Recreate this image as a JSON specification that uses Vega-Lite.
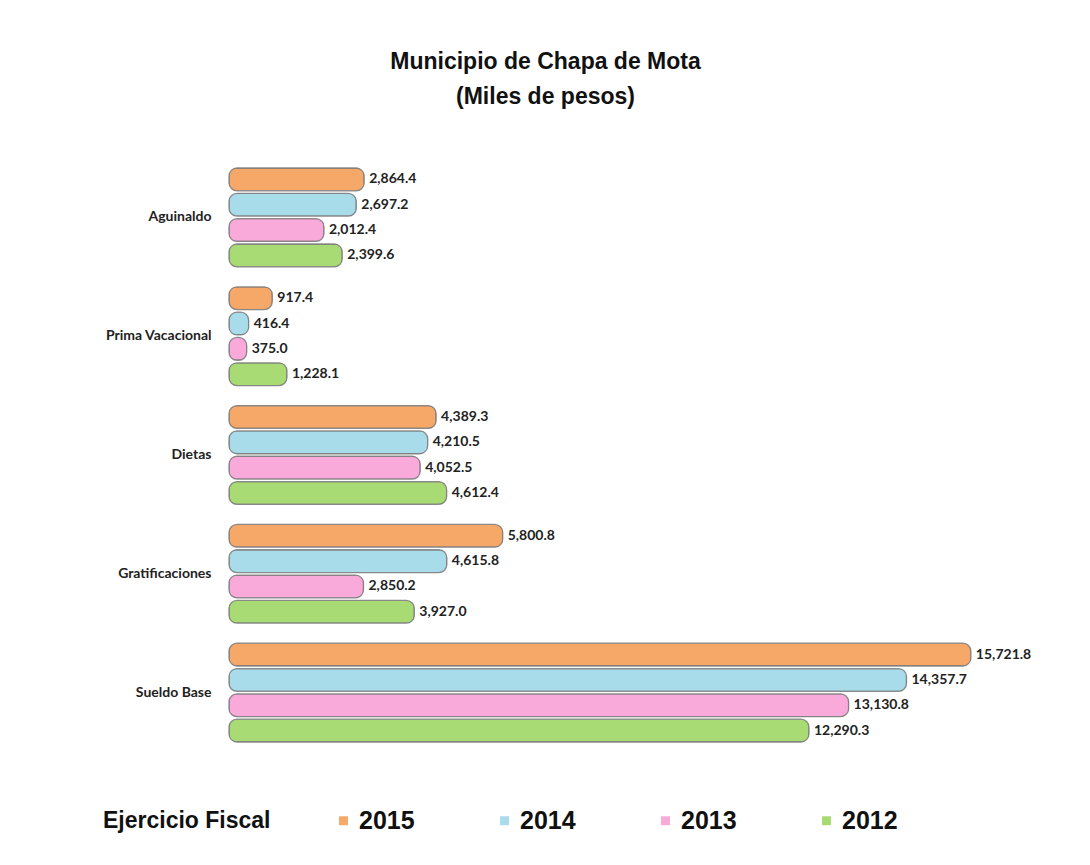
{
  "$schema": "https://vega.github.io/schema/vega-lite/v6.json",
  "autosize": "none",
  "width": 755,
  "height": 594,
  "padding": {"left": 229, "top": 158, "right": 106, "bottom": 113},
  "background": "white",
  "title": {
    "text": ["Municipio de Chapa de Mota", "(Miles de pesos)"],
    "font": "Liberation Sans",
    "fontSize": 23,
    "fontWeight": "bold",
    "color": "#111",
    "anchor": "middle",
    "dx": -61,
    "offset": 49,
    "lineHeight": 35
  },
  "data": {
    "values": [
      {"concepto": "Aguinaldo", "anio": "2015", "valor": 2864.4},
      {"concepto": "Aguinaldo", "anio": "2014", "valor": 2697.2},
      {"concepto": "Aguinaldo", "anio": "2013", "valor": 2012.4},
      {"concepto": "Aguinaldo", "anio": "2012", "valor": 2399.6},
      {"concepto": "Prima  Vacacional", "anio": "2015", "valor": 917.4},
      {"concepto": "Prima  Vacacional", "anio": "2014", "valor": 416.4},
      {"concepto": "Prima  Vacacional", "anio": "2013", "valor": 375.0},
      {"concepto": "Prima  Vacacional", "anio": "2012", "valor": 1228.1},
      {"concepto": "Dietas", "anio": "2015", "valor": 4389.3},
      {"concepto": "Dietas", "anio": "2014", "valor": 4210.5},
      {"concepto": "Dietas", "anio": "2013", "valor": 4052.5},
      {"concepto": "Dietas", "anio": "2012", "valor": 4612.4},
      {"concepto": "Gratificaciones", "anio": "2015", "valor": 5800.8},
      {"concepto": "Gratificaciones", "anio": "2014", "valor": 4615.8},
      {"concepto": "Gratificaciones", "anio": "2013", "valor": 2850.2},
      {"concepto": "Gratificaciones", "anio": "2012", "valor": 3927.0},
      {"concepto": "Sueldo Base", "anio": "2015", "valor": 15721.8},
      {"concepto": "Sueldo Base", "anio": "2014", "valor": 14357.7},
      {"concepto": "Sueldo Base", "anio": "2013", "valor": 13130.8},
      {"concepto": "Sueldo Base", "anio": "2012", "valor": 12290.3}
    ]
  },
  "encoding": {
    "y": {
      "field": "concepto",
      "type": "nominal",
      "sort": ["Aguinaldo", "Prima  Vacacional", "Dietas", "Gratificaciones", "Sueldo Base"],
      "scale": {"paddingInner": 0.16, "paddingOuter": 0.08},
      "axis": {
        "title": null,
        "domain": false,
        "ticks": false,
        "labelFont": "Lato",
        "labelFontWeight": "bold",
        "labelFontSize": 14,
        "labelColor": "#222",
        "labelPadding": 18
      }
    },
    "yOffset": {
      "field": "anio",
      "type": "nominal",
      "sort": ["2015", "2014", "2013", "2012"],
      "scale": {"paddingInner": 0.1, "paddingOuter": 0.02}
    },
    "x": {
      "field": "valor",
      "type": "quantitative",
      "scale": {"domain": [0, 16000], "nice": false},
      "axis": null
    }
  },
  "layer": [
    {
      "mark": {"type": "bar", "cornerRadius": 8, "stroke": "#7a7a7a", "strokeOpacity": 0.85, "strokeWidth": 1.3},
      "encoding": {
        "color": {
          "field": "anio",
          "type": "nominal",
          "scale": {
            "domain": ["2015", "2014", "2013", "2012"],
            "range": ["#F6A868", "#A9DCEB", "#F9AADA", "#A8DB74"]
          },
          "legend": {
            "orient": "none",
            "legendX": -126,
            "legendY": 650,
            "direction": "horizontal",
            "title": "Ejercicio Fiscal",
            "titleOrient": "left",
            "titleFont": "Liberation Sans",
            "titleFontSize": 23,
            "titleFontWeight": "bold",
            "titleColor": "#111",
            "titlePadding": 60,
            "titleBaseline": "middle",
            "labelFont": "Liberation Sans",
            "labelFontSize": 25,
            "labelFontWeight": "bold",
            "labelColor": "#111",
            "labelOffset": 3,
            "symbolType": "square",
            "symbolSize": 80,
            "symbolStrokeWidth": 0,
            "columnPadding": 77
          }
        }
      }
    },
    {
      "mark": {"type": "text", "align": "left", "baseline": "middle", "dx": 5, "font": "Lato", "fontWeight": "bold", "fontSize": 14, "color": "#222"},
      "encoding": {
        "text": {"field": "valor", "type": "quantitative", "format": ",.1f"}
      }
    }
  ],
  "config": {
    "view": {"stroke": null}
  }
}
